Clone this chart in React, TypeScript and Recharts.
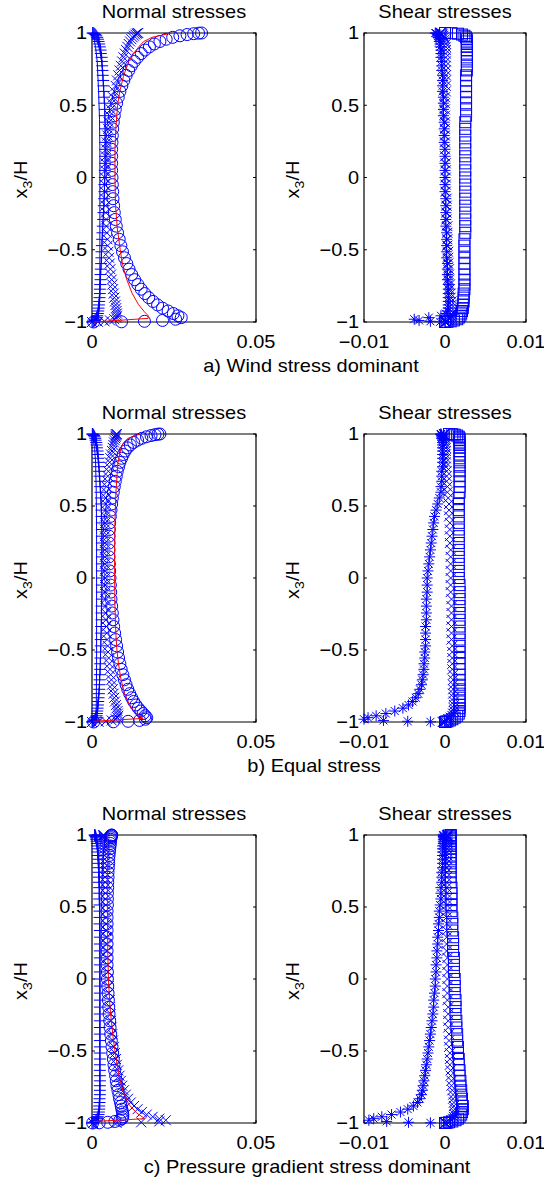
import React from "react";
import { ScatterChart, Scatter, XAxis, YAxis, ReferenceArea, ReferenceLine } from "recharts";

const FONT = "'Liberation Sans', Arial, Helvetica, sans-serif";
const BLUE = "#0000ff";

// wall-normal positions x3/H shared by all marker series (top wall -> bottom wall)
const Y = [
  1, 0.9988, 0.9952, 0.9892, 0.9808, 0.97, 0.9569, 0.9415,
  0.9239, 0.904, 0.8819, 0.8577, 0.8315, 0.8032, 0.773, 0.741,
  0.7071, 0.6716, 0.6344, 0.5957, 0.5556, 0.5141, 0.4714, 0.4276,
  0.3827, 0.3369, 0.2903, 0.243, 0.1951, 0.1467, 0.098, 0.0491,
  0,
  -0.0491, -0.098, -0.1467, -0.1951, -0.243, -0.2903, -0.3369, -0.3827,
  -0.4276, -0.4714, -0.5141, -0.5556, -0.5957, -0.6344, -0.6716, -0.7071,
  -0.741, -0.773, -0.8032, -0.8315, -0.8577, -0.8819, -0.904, -0.9239,
  -0.9415, -0.9569, -0.97, -0.9808, -0.9892, -0.9952, -0.9988, -1,
];

const Y_TICKS = [-1, -0.5, 0, 0.5, 1];
const NORMAL_TICKS = [0, 0.05];
const SHEAR_TICKS = [-0.01, 0, 0.01];

// ---- a) wind stress dominant ----
const aNormCirc = [
  0.0334, 0.0325, 0.031, 0.029, 0.0268, 0.0246, 0.0226, 0.0207,
  0.019, 0.0175, 0.0162, 0.015, 0.0139, 0.0129, 0.012, 0.0112,
  0.0104, 0.0097, 0.0091, 0.0085, 0.008, 0.0075, 0.0071, 0.0068,
  0.0065, 0.0063, 0.0062, 0.0061, 0.006, 0.006, 0.006, 0.006,
  0.0061,
  0.0062, 0.0063, 0.0064, 0.0066, 0.0068, 0.0071, 0.0074, 0.0078,
  0.0083, 0.0088, 0.0093, 0.0099, 0.0106, 0.0113, 0.0121, 0.013,
  0.014, 0.015, 0.0161, 0.0173, 0.0186, 0.02, 0.0215, 0.0232,
  0.0248, 0.0262, 0.0272, 0.0255, 0.0215, 0.016, 0.009, 0.0005,
];
const aNormCross = [
  0.0141, 0.0139, 0.0136, 0.0132, 0.0128, 0.0124, 0.012, 0.0116,
  0.0112, 0.0108, 0.0104, 0.01, 0.0096, 0.0092, 0.0088, 0.0084,
  0.008, 0.0076, 0.0072, 0.0068, 0.0064, 0.006, 0.0057, 0.0054,
  0.0051, 0.0049, 0.0047, 0.0045, 0.0043, 0.0042, 0.0041, 0.004,
  0.0039,
  0.0039, 0.0039, 0.004, 0.0041, 0.0042, 0.0043, 0.0044, 0.0045,
  0.0047, 0.0048, 0.005, 0.0052, 0.0054, 0.0056, 0.0058, 0.006,
  0.0062, 0.0064, 0.0066, 0.0068, 0.007, 0.0072, 0.0074, 0.0075,
  0.0076, 0.0076, 0.0074, 0.0068, 0.0055, 0.0038, 0.0018, 0,
];
const aNormPlus = [
  0.0002, 0.0004, 0.0007, 0.001, 0.0013, 0.0016, 0.0018, 0.002,
  0.0022, 0.0024, 0.0026, 0.0027, 0.0029, 0.003, 0.0031, 0.0032,
  0.0033, 0.0034, 0.0035, 0.0036, 0.0037, 0.0038, 0.0039, 0.0039,
  0.004, 0.004, 0.004, 0.004, 0.004, 0.004, 0.004, 0.0039,
  0.0039,
  0.0038, 0.0038, 0.0037, 0.0036, 0.0035, 0.0034, 0.0033, 0.0032,
  0.0031, 0.003, 0.0029, 0.0029, 0.0028, 0.0027, 0.0026, 0.0026,
  0.0025, 0.0024, 0.0024, 0.0023, 0.0022, 0.0021, 0.002, 0.0019,
  0.0018, 0.0016, 0.0014, 0.0012, 0.0009, 0.0006, 0.0003, 0,
];
const aRedY = [1, 0.97, 0.94, 0.9, 0.85, 0.8, 0.7, 0.6, 0.5, 0.35, 0.2, 0, -0.2, -0.35, -0.5, -0.6, -0.7, -0.8, -0.88, -0.93, -0.955, -0.975, -1];
const aRedX = [0.0243, 0.0183, 0.0157, 0.0141, 0.0125, 0.0111, 0.0096, 0.0085, 0.0078, 0.0073, 0.007, 0.007, 0.0072, 0.0077, 0.0086, 0.0093, 0.0105, 0.0122, 0.0142, 0.016, 0.0171, 0.0171, 0.0004];
const aBlueY = [1, 0.9, 0.8, 0.6, 0.4, 0.2, 0, -0.3, -0.6, -0.9, -0.96, -0.985, -1];
const aBlueX = [0.0003, 0.0011, 0.0016, 0.002, 0.0023, 0.0024, 0.0024, 0.0024, 0.0024, 0.0023, 0.0019, 0.001, 0];

const aShearStar = [
  -0.0012, -0.0011, -0.001, -0.0009, -0.0008, -0.0008, -0.0007, -0.0007,
  -0.0006, -0.0006, -0.0005, -0.0005, -0.0005, -0.0004, -0.0004, -0.0004,
  -0.0003, -0.0003, -0.0003, -0.0003, -0.0002, -0.0002, -0.0002, -0.0002,
  -0.0001, -0.0001, -0.0001, -0.0001, 0, 0, 0, 0,
  0,
  0, 0, 0.0001, 0.0001, 0.0001, 0.0001, 0.0001, 0.0002,
  0.0002, 0.0002, 0.0002, 0.0002, 0.0003, 0.0003, 0.0003, 0.0003,
  0.0004, 0.0004, 0.0004, 0.0004, 0.0004, 0.0004, 0.0004, 0.0003,
  0.0001, -0.0005, -0.002, -0.0038, -0.0032, -0.0018, -0.0006, 0,
];
const aShearCross = [
  -0.0006, -0.0005, -0.0004, -0.0003, -0.0002, -0.0001, 0, 0,
  0.0001, 0.0001, 0.0001, 0.0001, 0.0001, 0.0001, 0.0001, 0.0001,
  0.0001, 0.0001, 0.0001, 0.0001, 0, 0, 0, 0,
  0, 0, 0, 0, 0, 0, 0.0001, 0.0001,
  0.0001,
  0.0001, 0.0001, 0.0002, 0.0002, 0.0002, 0.0002, 0.0003, 0.0003,
  0.0003, 0.0003, 0.0004, 0.0004, 0.0004, 0.0005, 0.0005, 0.0005,
  0.0006, 0.0006, 0.0007, 0.0007, 0.0008, 0.0008, 0.0008, 0.0008,
  0.0008, 0.0007, 0.0006, 0.0005, 0.0004, 0.0002, 0.0001, 0,
];
const aShearSquare = [
  0, 0.0008, 0.0016, 0.0021, 0.0024, 0.0026, 0.0027, 0.0027,
  0.0027, 0.0027, 0.0027, 0.0027, 0.0027, 0.0027, 0.0027, 0.0027,
  0.0026, 0.0026, 0.0026, 0.0026, 0.0026, 0.0026, 0.0026, 0.0026,
  0.0025, 0.0025, 0.0025, 0.0025, 0.0025, 0.0025, 0.0025, 0.0025,
  0.0025,
  0.0025, 0.0025, 0.0025, 0.0025, 0.0025, 0.0025, 0.0025, 0.0025,
  0.0024, 0.0024, 0.0024, 0.0024, 0.0024, 0.0024, 0.0024, 0.0024,
  0.0024, 0.0024, 0.0023, 0.0023, 0.0023, 0.0022, 0.0022, 0.0021,
  0.002, 0.0019, 0.0017, 0.0015, 0.0011, 0.0007, 0.0003, 0,
];

// ---- b) equal stress ----
const bNormCirc = [
  0.0207, 0.0201, 0.0192, 0.018, 0.0166, 0.0152, 0.0139, 0.0127,
  0.0117, 0.0108, 0.0101, 0.0095, 0.009, 0.0085, 0.0081, 0.0077,
  0.0074, 0.0071, 0.0068, 0.0065, 0.0062, 0.006, 0.0058, 0.0056,
  0.0054, 0.0053, 0.0052, 0.0052, 0.0052, 0.0052, 0.0053, 0.0054,
  0.0055,
  0.0056, 0.0057, 0.0058, 0.006, 0.0062, 0.0064, 0.0066, 0.0069,
  0.0072, 0.0075, 0.0078, 0.0081, 0.0085, 0.0089, 0.0094, 0.0099,
  0.0104, 0.0109, 0.0115, 0.0121, 0.0127, 0.0134, 0.0141, 0.0149,
  0.0156, 0.0162, 0.0167, 0.0163, 0.0145, 0.011, 0.0065, 0.0005,
];
const bNormCross = [
  0.0075, 0.0075, 0.0074, 0.0073, 0.0072, 0.0071, 0.0069, 0.0067,
  0.0065, 0.0063, 0.0061, 0.0058, 0.0056, 0.0054, 0.0052, 0.005,
  0.0048, 0.0047, 0.0045, 0.0044, 0.0043, 0.0042, 0.0041, 0.004,
  0.004, 0.0039, 0.0039, 0.0039, 0.0039, 0.0039, 0.0039, 0.0039,
  0.004,
  0.004, 0.004, 0.0041, 0.0041, 0.0042, 0.0043, 0.0044, 0.0045,
  0.0046, 0.0048, 0.0049, 0.0051, 0.0053, 0.0055, 0.0057, 0.0059,
  0.0061, 0.0063, 0.0066, 0.0068, 0.007, 0.0073, 0.0075, 0.0078,
  0.0079, 0.008, 0.0078, 0.0072, 0.006, 0.0042, 0.002, 0,
];
const bNormPlus = [
  0.0001, 0.0002, 0.0004, 0.0006, 0.0008, 0.001, 0.0011, 0.0013,
  0.0014, 0.0015, 0.0017, 0.0018, 0.0019, 0.002, 0.0021, 0.0022,
  0.0023, 0.0024, 0.0025, 0.0026, 0.0027, 0.0028, 0.0029, 0.0029,
  0.003, 0.003, 0.003, 0.003, 0.003, 0.003, 0.003, 0.003,
  0.003,
  0.003, 0.003, 0.003, 0.0029, 0.0029, 0.0029, 0.0028, 0.0028,
  0.0027, 0.0027, 0.0026, 0.0026, 0.0025, 0.0025, 0.0024, 0.0023,
  0.0023, 0.0022, 0.0021, 0.002, 0.0019, 0.0018, 0.0017, 0.0016,
  0.0015, 0.0014, 0.0012, 0.001, 0.0007, 0.0004, 0.0002, 0,
];
const bRedY = [1, 0.97, 0.94, 0.9, 0.8, 0.6, 0.4, 0.2, 0, -0.2, -0.4, -0.5, -0.6, -0.7, -0.8, -0.88, -0.93, -0.96, -0.975, -0.995];
const bRedX = [0.0146, 0.011, 0.0096, 0.0088, 0.0079, 0.0073, 0.007, 0.0069, 0.0069, 0.007, 0.0073, 0.0076, 0.0081, 0.0088, 0.0099, 0.0114, 0.013, 0.0146, 0.0156, 0.0004];
const bBlueY = [1, 0.9, 0.8, 0.6, 0.3, 0, -0.3, -0.6, -0.9, -0.96, -0.985, -1];
const bBlueX = [0.0001, 0.0008, 0.0011, 0.0013, 0.0014, 0.0014, 0.0014, 0.0014, 0.0013, 0.001, 0.0005, 0];

const bShearStar = [
  -0.0005, -0.0005, -0.0005, -0.0004, -0.0004, -0.0004, -0.0003, -0.0003,
  -0.0003, -0.0003, -0.0003, -0.0003, -0.0003, -0.0003, -0.0003, -0.0004,
  -0.0004, -0.0004, -0.0005, -0.0005, -0.0007, -0.0009, -0.0011, -0.0013,
  -0.0014, -0.0015, -0.0016, -0.0017, -0.0018, -0.0019, -0.002, -0.0021,
  -0.0022,
  -0.0022, -0.0022, -0.0023, -0.0023, -0.0023, -0.0023, -0.0024, -0.0024,
  -0.0024, -0.0024, -0.0025, -0.0025, -0.0026, -0.0026, -0.0027, -0.0028,
  -0.0029, -0.0031, -0.0033, -0.0036, -0.004, -0.0045, -0.0052, -0.0062,
  -0.0073, -0.0085, -0.0095, -0.01, -0.0076, -0.0046, -0.0018, 0,
];
const bShearCross = [
  -0.0001, -0.0001, -0.0001, 0, 0, 0, 0, 0,
  0, 0.0001, 0.0001, 0.0001, 0.0001, 0.0001, 0.0001, 0.0002,
  0.0002, 0.0002, 0.0003, 0.0003, 0.0004, 0.0005, 0.0005, 0.0005,
  0.0006, 0.0006, 0.0006, 0.0006, 0.0007, 0.0007, 0.0007, 0.0007,
  0.0007,
  0.0007, 0.0007, 0.0008, 0.0008, 0.0008, 0.0008, 0.0008, 0.0008,
  0.0008, 0.0009, 0.0009, 0.0009, 0.0009, 0.0009, 0.001, 0.001,
  0.001, 0.001, 0.001, 0.0011, 0.0011, 0.0011, 0.0011, 0.0011,
  0.001, 0.0009, 0.0007, 0.0004, 0.0001, -0.0001, -0.0002, -0.0003,
];
const bShearSquare = [
  0.0005, 0.0009, 0.0012, 0.0015, 0.0017, 0.0018, 0.0018, 0.0018,
  0.0018, 0.0018, 0.0018, 0.0018, 0.0018, 0.0018, 0.0018, 0.0018,
  0.0018, 0.0018, 0.0018, 0.0018, 0.0017, 0.0017, 0.0017, 0.0017,
  0.0017, 0.0017, 0.0017, 0.0017, 0.0017, 0.0017, 0.0017, 0.0017,
  0.0017,
  0.0018, 0.0018, 0.0018, 0.0018, 0.0018, 0.0018, 0.0018, 0.0018,
  0.0018, 0.0018, 0.0018, 0.0018, 0.0018, 0.0018, 0.0018, 0.0018,
  0.0018, 0.0018, 0.0018, 0.0018, 0.0018, 0.0018, 0.0018, 0.0018,
  0.0017, 0.0015, 0.0012, 0.0009, 0.0006, 0.0003, 0.0001, 0,
];

// ---- c) pressure gradient stress dominant ----
const cNormCirc = [
  0.006, 0.006, 0.0059, 0.0059, 0.0058, 0.0057, 0.0056, 0.0056,
  0.0055, 0.0054, 0.0053, 0.0052, 0.0051, 0.0051, 0.005, 0.0049,
  0.0049, 0.0048, 0.0048, 0.0047, 0.0047, 0.0047, 0.0046, 0.0046,
  0.0046, 0.0046, 0.0046, 0.0046, 0.0046, 0.0046, 0.0046, 0.0047,
  0.0047,
  0.0048, 0.0049, 0.005, 0.0051, 0.0052, 0.0054, 0.0055, 0.0057,
  0.0059, 0.0061, 0.0063, 0.0065, 0.0067, 0.0069, 0.0072, 0.0074,
  0.0076, 0.0079, 0.0082, 0.0084, 0.0087, 0.0089, 0.0091, 0.0093,
  0.0094, 0.0094, 0.0092, 0.0085, 0.007, 0.0048, 0.0022, 0.0002,
];
const cNormCross = [
  0.0035, 0.0035, 0.0035, 0.0036, 0.0036, 0.0037, 0.0037, 0.0037,
  0.0038, 0.0038, 0.0038, 0.0039, 0.0039, 0.0039, 0.0039, 0.004,
  0.004, 0.004, 0.0041, 0.0041, 0.0041, 0.0042, 0.0042, 0.0043,
  0.0043, 0.0044, 0.0045, 0.0045, 0.0046, 0.0047, 0.0048, 0.0049,
  0.005,
  0.0051, 0.0052, 0.0054, 0.0055, 0.0057, 0.0058, 0.006, 0.0062,
  0.0064, 0.0067, 0.007, 0.0073, 0.0076, 0.008, 0.0084, 0.0088,
  0.0092, 0.0097, 0.0103, 0.011, 0.0118, 0.0128, 0.0139, 0.0152,
  0.0167, 0.0185, 0.0205, 0.0225, 0.0205, 0.015, 0.0075, 0.0003,
];
const cNormPlus = [
  0.0008, 0.0009, 0.001, 0.0011, 0.0012, 0.0013, 0.0014, 0.0015,
  0.0016, 0.0017, 0.0017, 0.0018, 0.0019, 0.0019, 0.002, 0.002,
  0.0021, 0.0021, 0.0022, 0.0022, 0.0022, 0.0023, 0.0023, 0.0023,
  0.0023, 0.0024, 0.0024, 0.0024, 0.0024, 0.0024, 0.0024, 0.0024,
  0.0024,
  0.0024, 0.0024, 0.0024, 0.0024, 0.0024, 0.0024, 0.0024, 0.0024,
  0.0024, 0.0024, 0.0024, 0.0024, 0.0024, 0.0024, 0.0024, 0.0024,
  0.0024, 0.0024, 0.0024, 0.0023, 0.0023, 0.0022, 0.0022, 0.0021,
  0.002, 0.0018, 0.0016, 0.0013, 0.001, 0.0006, 0.0003, 0,
];
const cRedY = [1, 0.8, 0.5, 0.2, 0, -0.2, -0.4, -0.5, -0.6, -0.7, -0.8, -0.87, -0.93, -0.96, -0.97, -0.99];
const cRedX = [0.0047, 0.0047, 0.0047, 0.0048, 0.005, 0.0055, 0.0064, 0.007, 0.0077, 0.0085, 0.0098, 0.0112, 0.0136, 0.0155, 0.016, 0.0004];
const cBlueY = [1, 0.95, 0.8, 0.5, 0, -0.5, -0.9, -0.96, -0.985, -1];
const cBlueX = [0.0008, 0.0018, 0.0022, 0.0024, 0.0024, 0.0024, 0.0024, 0.0019, 0.001, 0];

const cShearStar = [
  -0.0002, -0.0002, -0.0002, -0.0002, -0.0002, -0.0002, -0.0002, -0.0002,
  -0.0003, -0.0003, -0.0003, -0.0003, -0.0003, -0.0003, -0.0003, -0.0004,
  -0.0004, -0.0004, -0.0005, -0.0005, -0.0005, -0.0006, -0.0007, -0.0007,
  -0.0008, -0.0008, -0.0009, -0.0009, -0.001, -0.001, -0.0011, -0.0011,
  -0.0012,
  -0.0012, -0.0013, -0.0014, -0.0014, -0.0015, -0.0016, -0.0017, -0.0018,
  -0.0019, -0.002, -0.0021, -0.0022, -0.0023, -0.0024, -0.0025, -0.0026,
  -0.0027, -0.0028, -0.0029, -0.0031, -0.0034, -0.0039, -0.0046, -0.0055,
  -0.0066, -0.0078, -0.0088, -0.0094, -0.0072, -0.0045, -0.0018, 0,
];
const cShearCross = [
  0.0003, 0.0003, 0.0003, 0.0003, 0.0003, 0.0003, 0.0003, 0.0003,
  0.0003, 0.0003, 0.0003, 0.0003, 0.0003, 0.0002, 0.0002, 0.0002,
  0.0002, 0.0002, 0.0002, 0.0002, 0.0002, 0.0002, 0.0002, 0.0002,
  0.0002, 0.0002, 0.0002, 0.0002, 0.0002, 0.0003, 0.0003, 0.0003,
  0.0003,
  0.0003, 0.0003, 0.0003, 0.0004, 0.0004, 0.0004, 0.0004, 0.0005,
  0.0005, 0.0005, 0.0006, 0.0006, 0.0006, 0.0007, 0.0007, 0.0008,
  0.0008, 0.0009, 0.001, 0.001, 0.0011, 0.0011, 0.0012, 0.0012,
  0.0012, 0.0011, 0.001, 0.0008, 0.0006, 0.0003, 0.0001, 0,
];
const cShearSquare = [
  0.0007, 0.0007, 0.0007, 0.0007, 0.0007, 0.0007, 0.0007, 0.0007,
  0.0007, 0.0007, 0.0007, 0.0007, 0.0007, 0.0007, 0.0007, 0.0007,
  0.0007, 0.0007, 0.0008, 0.0008, 0.0008, 0.0008, 0.0008, 0.0009,
  0.0009, 0.0009, 0.001, 0.001, 0.001, 0.0011, 0.0011, 0.0011,
  0.0012,
  0.0012, 0.0012, 0.0013, 0.0013, 0.0013, 0.0014, 0.0014, 0.0015,
  0.0015, 0.0016, 0.0016, 0.0017, 0.0017, 0.0018, 0.0018, 0.0019,
  0.0019, 0.002, 0.002, 0.0021, 0.0021, 0.0022, 0.0022, 0.0021,
  0.002, 0.0018, 0.0016, 0.0013, 0.0009, 0.0005, 0.0002, 0,
];

type Pt = { x: number; y: number };
type Kind = "circle" | "cross" | "plus" | "star" | "square";

const pts = (xs: number[], ys: number[]): Pt[] => xs.map((x, i) => ({ x, y: ys[i] }));

const fmt = (v: number) => (v < 0 ? "\u2212" + String(-v) : String(v));

// MATLAB-like open markers
const marker = (kind: Kind) => (p: any) => {
  const { cx, cy } = p;
  if (cx == null || cy == null) return <g />;
  const sw = 1;
  if (kind === "circle")
    return <circle cx={cx} cy={cy} r={6} fill="none" stroke={BLUE} strokeWidth={sw} />;
  if (kind === "square")
    return <rect x={cx - 5.5} y={cy - 5.5} width={11} height={11} fill="none" stroke={BLUE} strokeWidth={sw} />;
  let d = "";
  if (kind === "cross") {
    const s = 5;
    d = `M${cx - s},${cy - s}L${cx + s},${cy + s}M${cx - s},${cy + s}L${cx + s},${cy - s}`;
  } else if (kind === "plus") {
    const s = 6;
    d = `M${cx - s},${cy}L${cx + s},${cy}M${cx},${cy - s}L${cx},${cy + s}`;
  } else {
    const s = 5.5, t = 4;
    d = `M${cx - s},${cy}L${cx + s},${cy}M${cx},${cy - s}L${cx},${cy + s}` +
      `M${cx - t},${cy - t}L${cx + t},${cy + t}M${cx - t},${cy + t}L${cx + t},${cy - t}`;
  }
  return <path d={d} fill="none" stroke={BLUE} strokeWidth={sw} />;
};

const noMarker = () => <g />;

const AxisTick = (p: any) => {
  const { x, y, payload, anchor, em } = p;
  return (
    <text transform={`translate(${x},${y}) scale(1,0.9)`} textAnchor={anchor} dy={`${em}em`} fontSize={20} fill="#000" fontFamily={FONT}>
      {fmt(payload.value)}
    </text>
  );
};

interface PanelProps {
  left: number;
  top: number;
  w: number;
  h: number;
  xDomain: [number, number];
  xTicks: number[];
  marks: { data: Pt[]; kind: Kind }[];
  lines: { data: Pt[]; color: string }[];
}

const Panel: React.FC<PanelProps> = ({ left, top, w, h, xDomain, xTicks, marks, lines }) => {
  const [x0, x1] = xDomain;
  const dx = (x1 - x0) * 0.018;
  const dy = 0.02;
  return (
    <div style={{ position: "absolute", left: left - 80, top: top - 10 }}>
      <ScatterChart width={w + 106} height={h + 50} margin={{ top: 10, right: 26, bottom: 0, left: 0 }}>
        <XAxis
          type="number"
          dataKey="x"
          domain={xDomain}
          ticks={xTicks}
          interval={0}
          tickSize={0}
          tickMargin={13}
          axisLine={false}
          tickLine={false}
          height={40}
          tick={(p: any) => <AxisTick {...p} anchor="middle" em={0.71} />}
        />
        <YAxis
          type="number"
          dataKey="y"
          domain={[-1, 1]}
          ticks={Y_TICKS}
          interval={0}
          tickSize={0}
          tickMargin={5}
          axisLine={false}
          tickLine={false}
          width={80}
          tick={(p: any) => <AxisTick {...p} anchor="end" em={0.355} />}
        />
        <ReferenceArea x1={x0} x2={x1} y1={-1} y2={1} fill="none" stroke="#000" strokeWidth={1.2} />
        {xTicks.map((t) => (
          <ReferenceLine key={`b${t}`} segment={[{ x: t, y: -1 }, { x: t, y: -1 + dy }]} stroke="#000" />
        ))}
        {xTicks.map((t) => (
          <ReferenceLine key={`t${t}`} segment={[{ x: t, y: 1 }, { x: t, y: 1 - dy }]} stroke="#000" />
        ))}
        {Y_TICKS.map((t) => (
          <ReferenceLine key={`l${t}`} segment={[{ x: x0, y: t }, { x: x0 + dx, y: t }]} stroke="#000" />
        ))}
        {Y_TICKS.map((t) => (
          <ReferenceLine key={`r${t}`} segment={[{ x: x1, y: t }, { x: x1 - dx, y: t }]} stroke="#000" />
        ))}
        {marks.map((m, i) => (
          <Scatter key={`m${i}`} data={m.data} shape={marker(m.kind)} isAnimationActive={false} />
        ))}
        {lines.map((l, i) => (
          <Scatter
            key={`l${i}`}
            data={l.data}
            shape={noMarker}
            line={{ stroke: l.color, strokeWidth: 1 }}
            isAnimationActive={false}
          />
        ))}
      </ScatterChart>
    </div>
  );
};

const LX = 92, LW = 164, RX = 364, RW = 162;
const ROWS = [
  { top: 33, h: 289, caption: "a) Wind stress dominant", cx: 311 },
  { top: 434, h: 288, caption: "b) Equal stress", cx: 314 },
  { top: 835, h: 288, caption: "c) Pressure gradient stress dominant", cx: 307 },
];

const App: React.FC = () => {
  const normal = [
    { marks: [
        { data: pts(aNormPlus, Y), kind: "plus" as Kind },
        { data: pts(aNormCross, Y), kind: "cross" as Kind },
        { data: pts(aNormCirc, Y), kind: "circle" as Kind },
      ],
      lines: [{ data: pts(aBlueX, aBlueY), color: BLUE }, { data: pts(aRedX, aRedY), color: "#ff0000" }] },
    { marks: [
        { data: pts(bNormPlus, Y), kind: "plus" as Kind },
        { data: pts(bNormCross, Y), kind: "cross" as Kind },
        { data: pts(bNormCirc, Y), kind: "circle" as Kind },
      ],
      lines: [{ data: pts(bBlueX, bBlueY), color: BLUE }, { data: pts(bRedX, bRedY), color: "#ff0000" }] },
    { marks: [
        { data: pts(cNormPlus, Y), kind: "plus" as Kind },
        { data: pts(cNormCross, Y), kind: "cross" as Kind },
        { data: pts(cNormCirc, Y), kind: "circle" as Kind },
      ],
      lines: [{ data: pts(cBlueX, cBlueY), color: BLUE }, { data: pts(cRedX, cRedY), color: "#ff0000" }] },
  ];
  const shear = [
    [pts(aShearSquare, Y), pts(aShearCross, Y), pts(aShearStar, Y)],
    [pts(bShearSquare, Y), pts(bShearCross, Y), pts(bShearStar, Y)],
    [pts(cShearSquare, Y), pts(cShearCross, Y), pts(cShearStar, Y)],
  ];

  return (
    <div style={{ position: "absolute", left: 0, top: 0, width: 544, height: 1183, background: "#fff", fontFamily: FONT, overflow: "hidden" }}>
      {ROWS.map((r, i) => (
        <React.Fragment key={i}>
          <Panel left={LX} top={r.top} w={LW} h={r.h} xDomain={[0, 0.05]} xTicks={NORMAL_TICKS}
            marks={normal[i].marks} lines={normal[i].lines} />
          <Panel left={RX} top={r.top} w={RW} h={r.h} xDomain={[-0.01, 0.01]} xTicks={SHEAR_TICKS}
            marks={[
              { data: shear[i][0], kind: "square" },
              { data: shear[i][1], kind: "cross" },
              { data: shear[i][2], kind: "star" },
            ]}
            lines={[]} />
        </React.Fragment>
      ))}
      <svg width={544} height={1183} style={{ position: "absolute", left: 0, top: 0, pointerEvents: "none" }}>
        {ROWS.map((r, i) => {
          const base = r.top - 15.5;
          const mid = r.top + r.h / 2 + 2;
          return (
            <g key={i} fontFamily={FONT} fontSize={20} fill="#000">
              <text transform={`translate(${LX + LW / 2},${base}) scale(1,0.9)`} textAnchor="middle">Normal stresses</text>
              <text transform={`translate(${RX + RW / 2},${base}) scale(1,0.9)`} textAnchor="middle">Shear stresses</text>
              <text transform={`translate(${r.cx},${r.top + r.h + 50}) scale(1,0.9)`} textAnchor="middle">{r.caption}</text>
              {[LX, RX].map((bx) => (
                <text key={bx} transform={`translate(${bx - 65.5},${mid}) rotate(-90) scale(1,0.9)`} textAnchor="middle">
                  x<tspan fontSize={14} dy={6}>3</tspan><tspan dy={-6}>/H</tspan>
                </text>
              ))}
            </g>
          );
        })}
      </svg>
    </div>
  );
};

export default App;
